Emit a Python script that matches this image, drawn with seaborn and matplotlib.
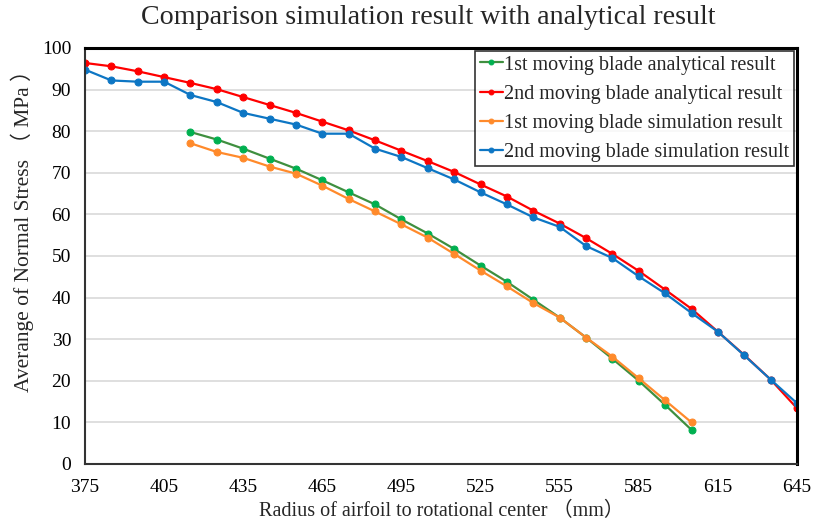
import matplotlib
matplotlib.use("Agg")
import matplotlib.pyplot as plt
import seaborn as sns
import pandas as pd

# Radius positions (mm)
radius_2nd = list(range(375, 646, 10))
radius_1st = list(range(415, 606, 10))

# Average normal stress (MPa)
stress_2nd_analytical = [96.4, 95.6, 94.4, 93.0, 91.6, 90.1, 88.2, 86.3, 84.4, 82.3,
                         80.2, 77.8, 75.3, 72.8, 70.2, 67.2, 64.3, 60.9, 57.8, 54.3,
                         50.5, 46.4, 41.9, 37.3, 31.8, 26.2, 20.3, 13.4]
stress_2nd_simulation = [94.8, 92.2, 91.9, 91.9, 88.7, 87.0, 84.4, 83.0, 81.6, 79.4,
                         79.4, 75.8, 73.8, 71.1, 68.4, 65.3, 62.4, 59.3, 57.0, 52.4,
                         49.5, 45.1, 41.0, 36.3, 31.8, 26.1, 20.3, 14.6]
stress_1st_analytical = [79.8, 78.0, 75.8, 73.4, 71.0, 68.2, 65.3, 62.4, 58.8, 55.4,
                         51.7, 47.7, 43.8, 39.5, 35.2, 30.4, 25.3, 20.0, 14.2, 8.2]
stress_1st_simulation = [77.1, 75.0, 73.6, 71.5, 69.8, 66.9, 63.7, 60.7, 57.6, 54.4,
                         50.5, 46.5, 42.7, 38.7, 35.2, 30.4, 25.8, 20.6, 15.3, 10.0]

series_names = ["1st moving blade analytical result",
                "2nd moving blade analytical result",
                "1st moving blade simulation result",
                "2nd moving blade simulation result"]
x_ticks = list(range(375, 646, 30))
y_ticks = list(range(0, 101, 10))

sns.set_theme(style="white")
plt.rcParams["font.family"] = ["Liberation Serif", "Noto Sans CJK SC", "DejaVu Serif"]

series = [
    (radius_1st, stress_1st_analytical, series_names[0], "#3f8f3f", "#00b050"),
    (radius_2nd, stress_2nd_analytical, series_names[1], "#ff0000", "#ff0000"),
    (radius_1st, stress_1st_simulation, series_names[2], "#ff8a2b", "#ff8a2b"),
    (radius_2nd, stress_2nd_simulation, series_names[3], "#0d76c4", "#0d76c4"),
]

fig = plt.figure(figsize=(8.13, 5.26), dpi=100)
ax = fig.add_axes([85 / 813, 1 - 464 / 526, 712 / 813, 416 / 526])

for xs, ys, name, lc, mc in series:
    df = pd.DataFrame({"radius": xs, "stress": ys})
    sns.lineplot(data=df, x="radius", y="stress", ax=ax, color=lc, linewidth=1.6,
                 marker="o", markersize=5, markerfacecolor=mc, markeredgecolor=mc,
                 label=name)

ax.set_xlim(375, 645)
ax.set_ylim(0, 100)
ax.set_xticks(x_ticks)
ax.set_yticks(y_ticks)
ax.tick_params(axis="both", length=0, labelsize=14, colors="black")
ax.tick_params(axis="x", pad=11)
ax.tick_params(axis="y", pad=10)
ax.yaxis.grid(True, color="#d9d9d9", linewidth=1.2)
ax.set_axisbelow(True)

for side in ["left", "bottom"]:
    ax.spines[side].set_color("#333333")
    ax.spines[side].set_linewidth(1.5)
for side in ["top", "right"]:
    ax.spines[side].set_color("black")
    ax.spines[side].set_linewidth(2.2)

ax.set_xlabel("Radius of airfoil to rotational center （mm）", fontsize=14.5, labelpad=4)
ax.set_ylabel("Averange of Normal Stress （ MPa ）", fontsize=15.5)
ax.yaxis.set_label_coords(-0.072, 0.572)
fig.text(428 / 813, 1 - 5 / 526, "Comparison simulation result with analytical result",
         fontsize=20.2, ha="center", va="top")

leg = ax.legend(loc="upper right", fontsize=14.5, frameon=True, fancybox=False,
                edgecolor="black", borderpad=0.22, handlelength=1.15, handletextpad=0.08,
                labelspacing=0.5, borderaxespad=0.15, markerscale=0.7)
leg.get_frame().set_linewidth(1.2)

fig.savefig("out.png", dpi=100)
